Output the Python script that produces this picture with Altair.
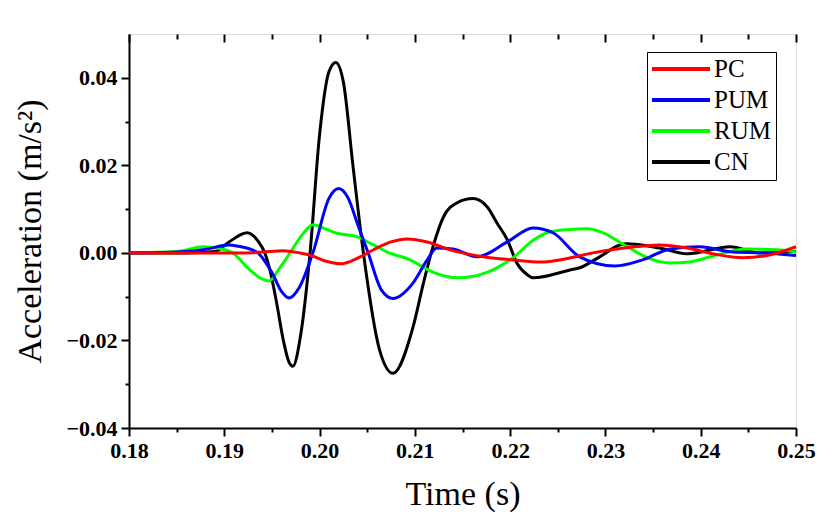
import altair as alt
import pandas as pd

# ---------------- data ----------------
series = ["PC", "PUM", "RUM", "CN"]
colors = ["#ff0000", "#0000ff", "#00ff00", "#000000"]

cn_t = [0.180, 0.186, 0.189, 0.1905, 0.1924, 0.1930, 0.1936, 0.1942, 0.1948, 0.1955,
        0.1962, 0.1968, 0.1972, 0.1980, 0.1990, 0.2000, 0.2010, 0.2017, 0.2025, 0.2035,
        0.2046, 0.2063, 0.2077, 0.2098, 0.2109, 0.2119, 0.2130, 0.2144, 0.2161, 0.2176,
        0.2186, 0.2197, 0.2207, 0.2218, 0.2224, 0.2263, 0.2273, 0.2294, 0.2315, 0.2322,
        0.2357, 0.2386, 0.2431, 0.2462, 0.2500]
cn_a = [0.0, 0.0, 0.0003, 0.0025, 0.0046, 0.0040, 0.0025, 0.0003, -0.0040, -0.0115,
        -0.0200, -0.0250, -0.0259, -0.0190, 0.0, 0.0270, 0.0415, 0.0435, 0.0390, 0.0200,
        0.0, -0.0222, -0.0275, -0.0170, -0.0069, 0.0014, 0.0082, 0.0114, 0.0124, 0.0105,
        0.0069, 0.0030, -0.0023, -0.0050, -0.0057, -0.0039, -0.0034, -0.0009, 0.0018, 0.0021,
        0.0011, -0.0002, 0.0014, 0.0, 0.0004]

pum_t = [0.180, 0.185, 0.188, 0.1905, 0.1915, 0.1934, 0.1950, 0.1960, 0.1968, 0.1979,
         0.1993, 0.2010, 0.2020, 0.2030, 0.2040, 0.2051, 0.2065, 0.2077, 0.2098, 0.2113,
         0.2123, 0.2140, 0.2165, 0.2197, 0.2224, 0.2245, 0.2273, 0.2310, 0.2339, 0.2368,
         0.2399, 0.2434, 0.2469, 0.2500]
pum_a = [0.0, 0.0002, 0.0008, 0.0018, 0.0015, 0.0002, -0.0045, -0.0088, -0.0103, -0.0078,
         0.0, 0.0125, 0.0147, 0.0125, 0.0065, 0.0, -0.0085, -0.0104, -0.0069, -0.0016,
         0.0011, 0.0009, -0.0009, 0.0025, 0.0057, 0.0046, -0.0009, -0.0030, -0.0016, 0.0009,
         0.0014, 0.0002, 0.0, -0.0006]

rum_t = [0.180, 0.185, 0.1878, 0.1895, 0.1909, 0.1925, 0.1940, 0.1947, 0.1958, 0.1969,
         0.1983, 0.1993, 0.2008, 0.2018, 0.2039, 0.2055, 0.2071, 0.2095, 0.2120, 0.2145,
         0.2175, 0.2203, 0.2225, 0.2239, 0.2260, 0.2281, 0.2295, 0.2323, 0.2345, 0.2368,
         0.2390, 0.2410, 0.2448, 0.2480, 0.2500]
rum_a = [0.0, 0.0003, 0.0014, 0.0010, 0.0, -0.0035, -0.0060, -0.0064, -0.0035, 0.0,
         0.0045, 0.0064, 0.0053, 0.0045, 0.0037, 0.0020, 0.0002, -0.0016, -0.0045, -0.0057,
         -0.0045, -0.0011, 0.0030, 0.0046, 0.0053, 0.0055, 0.0048, 0.0014, -0.0012, -0.0023,
         -0.0020, -0.0009, 0.0009, 0.0007, 0.0002]

pc_t = [0.180, 0.192, 0.194, 0.1962, 0.1979, 0.1990, 0.2005, 0.2023, 0.2040, 0.2060,
        0.2075, 0.2092, 0.2113, 0.2137, 0.2150, 0.2175, 0.2203, 0.2231, 0.2260, 0.2287,
        0.2320, 0.2357, 0.2386, 0.2415, 0.2444, 0.2470, 0.2500]
pc_a = [0.0, 0.0, 0.0002, 0.0005, 0.0, -0.0005, -0.0018, -0.0025, -0.0012, 0.0011,
        0.0025, 0.0032, 0.0025, 0.0007, 0.0, -0.0010, -0.0016, -0.0021, -0.0013, 0.0,
        0.0011, 0.0018, 0.0011, -0.0003, -0.0011, -0.0006, 0.0014]

x_major = [0.18, 0.19, 0.20, 0.21, 0.22, 0.23, 0.24, 0.25]
x_minor = [0.185, 0.195, 0.205, 0.215, 0.225, 0.235, 0.245]
y_major = [-0.04, -0.02, 0.0, 0.02, 0.04]
y_minor = [-0.03, -0.01, 0.01, 0.03]

# draw order: CN first, PC last (on top)
rows = []
for name, ts, vs in [("CN", cn_t, cn_a), ("RUM", rum_t, rum_a),
                     ("PUM", pum_t, pum_a), ("PC", pc_t, pc_a)]:
    for t, v in zip(ts, vs):
        rows.append({"series": name, "t": t, "a": v})
df = pd.DataFrame(rows)

# ---------------- chart ----------------
W, H = 667, 394
FONT = "Liberation Serif"

xscale = alt.Scale(domain=[0.18, 0.25], nice=False, zero=False)
yscale = alt.Scale(domain=[-0.04, 0.05], nice=False, zero=False)

base = alt.Chart(df)

lines = base.mark_line(strokeWidth=3, interpolate="monotone").encode(
    x=alt.X("t:Q", scale=xscale, axis=alt.Axis(
        orient="bottom", values=x_major, format=".2f", title="Time (s)",
        grid=False, tickSize=8, tickWidth=2, tickColor="black",
        domainWidth=2, domainColor="black",
        labelFont=FONT, labelFontSize=22, labelFontWeight="bold", labelColor="black",
        labelPadding=4, labelFlush=False, labelOverlap=False,
        titleFont=FONT, titleFontSize=34, titleFontWeight="normal", titleColor="black",
        titleY=66, titleBaseline="middle")),
    y=alt.Y("a:Q", scale=yscale, axis=alt.Axis(
        orient="left", values=y_major, format=".2f", title="Acceleration (m/s²)",
        grid=False, tickSize=8, tickWidth=2, tickColor="black",
        domainWidth=2, domainColor="black",
        labelFont=FONT, labelFontSize=22, labelFontWeight="bold", labelColor="black",
        labelPadding=4, labelFlush=False, labelOverlap=False,
        titleFont=FONT, titleFontSize=34, titleFontWeight="normal", titleColor="black",
        titleAngle=270, titleX=-99, titleY=H / 2, titleBaseline="middle")),
    color=alt.Color("series:N", scale=alt.Scale(domain=series, range=colors),
                    legend=alt.Legend(
                        title=None, orient="none", legendX=518, legendY=18,
                        symbolType="stroke", symbolSize=3600, symbolStrokeWidth=4,
                        symbolOffset=-4, labelOffset=2, clipHeight=24, rowPadding=6,
                        padding=5, strokeColor="black", fillColor="white",
                        labelFont=FONT, labelFontSize=25, labelColor="black",
                        labelLimit=200)),
)

ghost = base.mark_point(opacity=0)

minor_ax = ghost.encode(
    x=alt.X("t:Q", scale=xscale, axis=alt.Axis(
        orient="bottom", values=x_minor, labels=False, domain=False, title=None,
        grid=False, tickSize=4, tickWidth=2, tickColor="black")),
    y=alt.Y("a:Q", scale=yscale, axis=alt.Axis(
        orient="left", values=y_minor, labels=False, domain=False, title=None,
        grid=False, tickSize=4, tickWidth=2, tickColor="black")),
)

top_major = ghost.encode(
    x=alt.X("t:Q", scale=xscale, axis=alt.Axis(
        orient="bottom", offset=-H, values=x_major, labels=False, domain=False,
        title=None, grid=False, tickSize=8, tickWidth=2, tickColor="black")),
    y=alt.Y("a:Q", scale=yscale, axis=None),
)

top_minor = ghost.encode(
    x=alt.X("t:Q", scale=xscale, axis=alt.Axis(
        orient="bottom", offset=-H, values=x_minor, labels=False, domain=False,
        title=None, grid=False, tickSize=5, tickWidth=2, tickColor="black")),
    y=alt.Y("a:Q", scale=yscale, axis=None),
)

chart = alt.layer(lines, minor_ax, top_major, top_minor).resolve_axis(
    x="independent", y="independent"
).properties(
    width=W, height=H,
    autosize=alt.AutoSizeParams(type="none"),
    padding={"left": 121, "top": 26, "right": 30, "bottom": 92},
    background="white",
).configure_view(
    stroke="black", strokeWidth=2
).configure_axis(
    labelFont=FONT, labelFontWeight="bold", titleFont=FONT
).configure(
    font=FONT
)

chart.save("out.html", embed_options={"renderer": "svg", "actions": False})
